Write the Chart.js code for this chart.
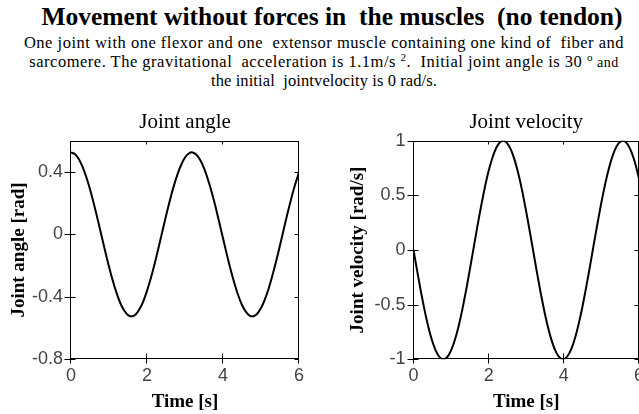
<!DOCTYPE html>
<html>
<head>
<meta charset="utf-8">
<title>Movement without forces in the muscles</title>
<script src="https://cdn.jsdelivr.net/npm/chart.js@4.4.0/dist/chart.umd.min.js"></script>
<style>
html, body { margin: 0; padding: 0; background: #fff; overflow: hidden; width: 639px; height: 414px; }
.txt { position: absolute; font-family: "Liberation Serif", "Times New Roman", serif; color: #000; text-align: center; white-space: pre; }
#title { left: 14px; width: 636px; top: 2px; font-size: 25.5px; font-weight: bold; line-height: 30px; }
#sub { left: 0; width: 648px; top: 34px; font-size: 16.5px; letter-spacing: 0.5px; line-height: 18.5px; }
#sub sup { font-size: 11px; line-height: 0; vertical-align: 6px; }
#sub .sm { font-size: 14px; }
#sub .last { letter-spacing: 0.1px; }
canvas { position: absolute; top: 100px; }
#angle { left: 0; }
#velocity { left: 320px; }
</style>
</head>
<body>
<div id="title" class="txt">Movement without forces in  the muscles  (no tendon)</div>
<div id="sub" class="txt">One joint with one flexor and one  extensor muscle containing one kind of  fiber and
sarcomere. The gravitational  acceleration is 1.1m/s <sup>2</sup>.  Initial joint angle is 30 <sup>o</sup><span class="sm"> and</span>
<span class="last">the initial  jointvelocity is 0 rad/s.</span></div>
<canvas id="angle" width="320" height="314"></canvas>
<canvas id="velocity" width="330" height="314"></canvas>
<script>
var timeS = [0.0, 0.1, 0.2, 0.3, 0.4, 0.5, 0.6, 0.7, 0.8, 0.9,
  1.0, 1.1, 1.2, 1.3, 1.4, 1.5, 1.6, 1.7, 1.8, 1.9,
  2.0, 2.1, 2.2, 2.3, 2.4, 2.5, 2.6, 2.7, 2.8, 2.9,
  3.0, 3.1, 3.2, 3.3, 3.4, 3.5, 3.6, 3.7, 3.8, 3.9,
  4.0, 4.1, 4.2, 4.3, 4.4, 4.5, 4.6, 4.7, 4.8, 4.9,
  5.0, 5.1, 5.2, 5.3, 5.4, 5.5, 5.6, 5.7, 5.8, 5.9, 6.0];

// joint angle [rad]
var jointAngle = [0.525, 0.515, 0.485, 0.435, 0.369, 0.289, 0.197, 0.098, -0.005, -0.108,
  -0.207, -0.297, -0.376, -0.441, -0.488, -0.517, -0.525, -0.513, -0.480, -0.430,
  -0.362, -0.281, -0.189, -0.089, 0.015, 0.118, 0.216, 0.306, 0.383, 0.446,
  0.492, 0.518, 0.525, 0.510, 0.476, 0.424, 0.355, 0.273, 0.180, 0.079,
  -0.025, -0.128, -0.225, -0.313, -0.390, -0.452, -0.495, -0.520, -0.524, -0.508,
  -0.472, -0.418, -0.348, -0.264, -0.171, -0.070, 0.034, 0.137, 0.233, 0.321, 0.397];

// joint velocity [rad/s]
var jointVelocity = [0.000, -0.196, -0.385, -0.559, -0.711, -0.835, -0.927, -0.982, -1.000, -0.979,
  -0.919, -0.824, -0.697, -0.543, -0.367, -0.177, 0.020, 0.216, 0.404, 0.575,
  0.724, 0.844, 0.933, 0.986, 1.000, 0.974, 0.911, 0.813, 0.683, 0.527,
  0.349, 0.158, -0.039, -0.235, -0.421, -0.590, -0.736, -0.854, -0.939, -0.989,
  -0.999, -0.970, -0.904, -0.802, -0.669, -0.510, -0.331, -0.141, 0.058, 0.252,
  0.437, 0.604, 0.749, 0.864, 0.946, 0.991, 0.998, 0.965, 0.896, 0.791, 0.655];

var timeTicks = [0, 2, 4, 6];
var angleTicks = [-0.8, -0.4, 0, 0.4];
var velocityTicks = [-1, -0.5, 0, 0.5, 1];

function toPoints(ys) {
  return timeS.map(function (t, i) { return {x: t, y: ys[i]}; });
}

function fixedTicks(list) {
  return function (scale) {
    scale.ticks = list.map(function (v) { return {value: v}; });
  };
}

// box around the plot with small ticks (crossing on left/bottom, inward on top/right)
// plus the panel heading centred over the plot box
var frame = {
  id: 'frame',
  afterDatasetsDraw: function (chart, args, opts) {
    var ctx = chart.ctx, a = chart.chartArea;
    var xs = chart.scales.x, ys = chart.scales.y;
    var l = Math.round(a.left) - 0.5, r = Math.round(a.right) - 0.5;
    var t = Math.round(a.top) + 0.5, b = Math.round(a.bottom) - 0.5;
    ctx.save();
    ctx.strokeStyle = '#000';
    ctx.lineWidth = 1;
    ctx.strokeRect(l, t, r - l, b - t);
    ctx.beginPath();
    xs.ticks.forEach(function (tk) {
      var px = Math.round(xs.getPixelForValue(tk.value)) - 0.5;
      ctx.moveTo(px, b - 5); ctx.lineTo(px, b + 5);
      ctx.moveTo(px, t); ctx.lineTo(px, t + 3);
    });
    ys.ticks.forEach(function (tk) {
      var py = Math.round(ys.getPixelForValue(tk.value)) + 0.5;
      ctx.moveTo(l - 6, py); ctx.lineTo(l + 5, py);
      ctx.moveTo(r - 4, py); ctx.lineTo(r, py);
    });
    ctx.stroke();

    ctx.fillStyle = '#000';
    ctx.font = '21px "Liberation Serif"';
    ctx.textAlign = 'center';
    ctx.textBaseline = 'alphabetic';
    ctx.fillText(opts.heading, (a.left + a.right) / 2, a.top - 12.4);
    ctx.restore();
  }
};

function makeChart(id, heading, yTitle, values, yMin, yMax, yTicks, yWidth, yTitlePad, padRight) {
  return new Chart(document.getElementById(id), {
    type: 'line',
    data: {
      datasets: [{
        data: toPoints(values),
        borderColor: '#000',
        borderWidth: 2,
        pointRadius: 0,
        tension: 0.2,
        fill: false
      }]
    },
    options: {
      responsive: false,
      animation: false,
      events: [],
      layout: {padding: {left: 0, right: padRight, top: 40.7, bottom: 0}},
      plugins: {
        legend: {display: false},
        tooltip: {enabled: false},
        title: {display: false},
        frame: {heading: heading}
      },
      scales: {
        x: {
          type: 'linear',
          min: 0,
          max: 6,
          afterBuildTicks: fixedTicks(timeTicks),
          afterFit: function (s) { s.height = 54.7; },
          grid: {display: false, drawTicks: false},
          border: {display: false},
          ticks: {
            color: '#444',
            font: {family: 'Liberation Sans', size: 18},
            padding: 6,
            maxRotation: 0,
            autoSkip: false,
            callback: function (v) { return String(v); }
          },
          title: {
            display: true,
            text: 'Time [s]',
            color: '#000',
            font: {family: 'Liberation Serif', size: 19, weight: 'bold'},
            padding: {top: 0, bottom: 1}
          }
        },
        y: {
          type: 'linear',
          min: yMin,
          max: yMax,
          afterBuildTicks: fixedTicks(yTicks),
          afterFit: function (s) { s.width = yWidth; },
          grid: {display: false, drawTicks: false},
          border: {display: false},
          ticks: {
            color: '#444',
            font: {family: 'Liberation Sans', size: 18},
            padding: 8,
            autoSkip: false,
            callback: function (v) { return String(v); }
          },
          title: {
            display: true,
            text: yTitle,
            color: '#000',
            font: {family: 'Liberation Serif', size: 19, weight: 'bold'},
            padding: {top: yTitlePad, bottom: 0}
          }
        }
      }
    },
    plugins: [frame]
  });
}

makeChart('angle', 'Joint angle', 'Joint angle [rad]', jointAngle, -0.8, 0.6, angleTicks, 71, 7.6, 21);
makeChart('velocity', 'Joint velocity', 'Joint velocity [rad/s]', jointVelocity, -1, 1, velocityTicks, 93.5, 26.6, 9.4);
</script>
</body>
</html>
